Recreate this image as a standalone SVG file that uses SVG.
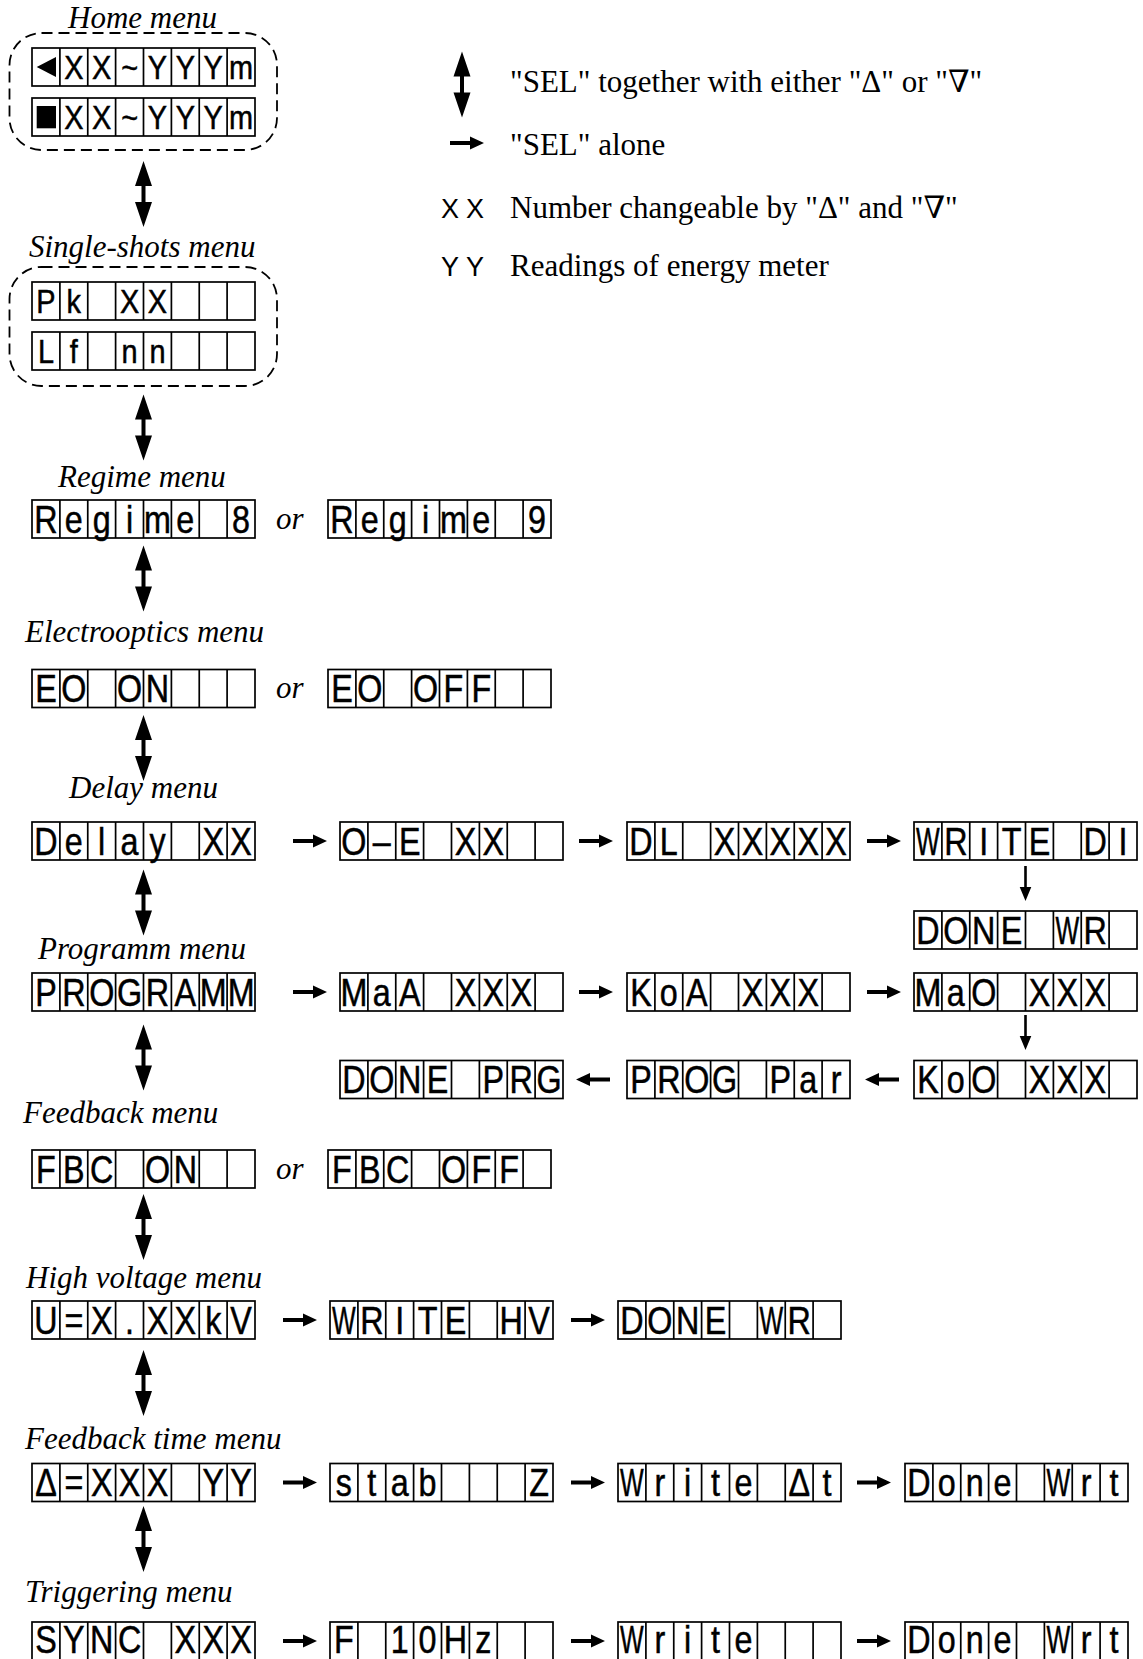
<svg xmlns="http://www.w3.org/2000/svg" width="1143" height="1659" viewBox="0 0 1143 1659">
<style>
.c{font-family:"Liberation Sans",Arial,sans-serif;font-size:38px;text-anchor:middle;fill:#000;stroke:#000;stroke-width:0.5}
.c2{font-size:34px}
.t{font-family:"Liberation Serif","Times New Roman",serif;font-style:italic;font-size:31px;fill:#000}
.lg{font-family:"Liberation Serif","Times New Roman","DejaVu Serif",serif;font-size:31px;fill:#000}
.ls{font-family:"Liberation Sans",Arial,sans-serif;font-size:27px;text-anchor:middle;fill:#000}
.dash{fill:none;stroke:#000;stroke-width:1.8;stroke-dasharray:11 6}
.ln{fill:none;stroke:#000;stroke-width:1.7}
.bx{fill:#fff;stroke:#000;stroke-width:1.7}
</style>
<defs>
<g id="g8"><rect class="bx" width="223" height="38"/><path class="ln" d="M27.9 0V38M55.75 0V38M83.6 0V38M111.5 0V38M139.4 0V38M167.25 0V38M195.1 0V38"/></g>
<path id="dbl" d="M0 -33L8.5 -8L2 -8L2 8L8.5 8L0 33L-8.5 8L-2 8L-2 -8L-8.5 -8Z" fill="#000"/>
<path id="ra" d="M0 -2H20V-6.5L34 0L20 6.5V2H0Z" fill="#000"/>
<path id="da" d="M-1.3 0H1.3V21H5.8L0 35L-5.8 21H-1.3Z" fill="#000"/>
</defs>
<rect width="1143" height="1659" fill="#fff"/>

<g id="titles">
<text class="t" x="68" y="28">Home menu</text>
<text class="t" x="29" y="257">Single-shots menu</text>
<text class="t" x="58" y="487">Regime menu</text>
<text class="t" x="25" y="642">Electrooptics menu</text>
<text class="t" x="69" y="798">Delay menu</text>
<text class="t" x="38" y="959">Programm menu</text>
<text class="t" x="23" y="1123">Feedback menu</text>
<text class="t" x="26" y="1288">High voltage menu</text>
<text class="t" x="25" y="1449">Feedback time menu</text>
<text class="t" x="25" y="1602">Triggering menu</text>
<text class="t" x="276" y="529">or</text>
<text class="t" x="276" y="698">or</text>
<text class="t" x="276" y="1179">or</text>
</g>

<g id="legend">
<use href="#dbl" x="462" y="84.5"/>
<text class="lg" x="510" y="91.5">"SEL" together with either "Δ" or "∇"</text>
<use href="#ra" x="450" y="143"/>
<text class="lg" x="510" y="154.5">"SEL" alone</text>
<text class="ls" x="450 475" y="218">XX</text>
<text class="lg" x="510" y="218">Number changeable by "Δ" and "∇"</text>
<text class="ls" x="450 475" y="276">YY</text>
<text class="lg" x="510" y="276">Readings of energy meter</text>
</g>

<g id="home-menu">
<rect class="dash" x="9.5" y="33" width="267.5" height="117" rx="32" ry="32"/>
<g id="home-row1" transform="translate(32,48)"><use href="#g8"/><polygon points="4.7,19 24,9 24,29" fill="#000"/><text class="c c2" transform="scale(0.85,1)" x="49.2 82 114.8 147.6 180.4 213.2 246" y="31">XX~YYYm</text></g>
<g id="home-row2" transform="translate(32,98)"><use href="#g8"/><rect x="4.7" y="8" width="19.3" height="22.3" fill="#000"/><text class="c c2" transform="scale(0.85,1)" x="49.2 82 114.8 147.6 180.4 213.2 246" y="31">XX~YYYm</text></g>
</g>

<g id="single-shots-menu">
<rect class="dash" x="9.5" y="267" width="267.5" height="119" rx="32" ry="32"/>
<g id="ss-row1" transform="translate(32,282)"><use href="#g8"/><text class="c c2" transform="scale(0.85,1)" x="16.4 49.2 82 114.8 147.6" y="31">Pk&#160;XX</text></g>
<g id="ss-row2" transform="translate(32,332)"><use href="#g8"/><text class="c c2" transform="scale(0.85,1)" x="16.4 49.2 82 114.8 147.6" y="31">Lf&#160;nn</text></g>
</g>

<g id="regime8" transform="translate(32,500)"><use href="#g8"/><text class="c" transform="scale(0.85,1)" x="16.4 49.2 82 114.8 147.6 180.4 213.2 246" y="32.6">Regime&#160;8</text></g>
<g id="regime9" transform="translate(328,500)"><use href="#g8"/><text class="c" transform="scale(0.85,1)" x="16.4 49.2 82 114.8 147.6 180.4 213.2 246" y="32.6">Regime&#160;9</text></g>
<g id="eo-on" transform="translate(32,669.5)"><use href="#g8"/><text class="c" transform="scale(0.85,1)" x="16.4 49.2 82 114.8 147.6" y="32.6">EO&#160;ON</text></g>
<g id="eo-off" transform="translate(328,669.5)"><use href="#g8"/><text class="c" transform="scale(0.85,1)" x="16.4 49.2 82 114.8 147.6 180.4" y="32.6">EO&#160;OFF</text></g>

<g id="delay" transform="translate(32,822)"><use href="#g8"/><text class="c" transform="scale(0.85,1)" x="16.4 49.2 82 114.8 147.6 180.4 213.2 246" y="32.6">Delay&#160;XX</text></g>
<g id="o-e" transform="translate(340,822)"><use href="#g8"/><text class="c" transform="scale(0.85,1)" x="16.4 49.2 82 114.8 147.6 180.4" y="32.6">O–E&#160;XX</text></g>
<g id="dl" transform="translate(627,822)"><use href="#g8"/><text class="c" transform="scale(0.85,1)" x="16.4 49.2 82 114.8 147.6 180.4 213.2 246" y="32.6">DL&#160;XXXXX</text></g>
<g id="write-di" transform="translate(914,822)"><use href="#g8"/><text class="c" transform="translate(13.94,32.6) scale(0.66,1)">W</text><text class="c" transform="scale(0.85,1)" x="49.2 82 114.8 147.6 180.4 213.2 246" y="32.6">RITE&#160;DI</text></g>
<g id="done-wr-delay" transform="translate(914,911)"><use href="#g8"/><text class="c" transform="scale(0.85,1)" x="16.4 49.2 82 114.8" y="32.6">DONE</text><text class="c" transform="translate(153.31,32.6) scale(0.66,1)">W</text><text class="c" transform="scale(0.85,1)" x="213.2" y="32.6">R</text></g>

<g id="programm" transform="translate(32,973)"><use href="#g8"/><text class="c" transform="scale(0.85,1)" x="16.4 49.2 82 114.8 147.6 180.4 213.2 246" y="32.6">PROGRAMM</text></g>
<g id="maa" transform="translate(340,973)"><use href="#g8"/><text class="c" transform="scale(0.85,1)" x="16.4 49.2 82 114.8 147.6 180.4 213.2" y="32.6">MaA&#160;XXX</text></g>
<g id="koa" transform="translate(627,973)"><use href="#g8"/><text class="c" transform="scale(0.85,1)" x="16.4 49.2 82 114.8 147.6 180.4 213.2" y="32.6">KoA&#160;XXX</text></g>
<g id="mao" transform="translate(914,973)"><use href="#g8"/><text class="c" transform="scale(0.85,1)" x="16.4 49.2 82 114.8 147.6 180.4 213.2" y="32.6">MaO&#160;XXX</text></g>
<g id="koo" transform="translate(914,1060.5)"><use href="#g8"/><text class="c" transform="scale(0.85,1)" x="16.4 49.2 82 114.8 147.6 180.4 213.2" y="32.6">KoO&#160;XXX</text></g>
<g id="prog-par" transform="translate(627,1060.5)"><use href="#g8"/><text class="c" transform="scale(0.85,1)" x="16.4 49.2 82 114.8 147.6 180.4 213.2 246" y="32.6">PROG&#160;Par</text></g>
<g id="done-prg" transform="translate(340,1060.5)"><use href="#g8"/><text class="c" transform="scale(0.85,1)" x="16.4 49.2 82 114.8 147.6 180.4 213.2 246" y="32.6">DONE&#160;PRG</text></g>

<g id="fbc-on" transform="translate(32,1150)"><use href="#g8"/><text class="c" transform="scale(0.85,1)" x="16.4 49.2 82 114.8 147.6 180.4" y="32.6">FBC&#160;ON</text></g>
<g id="fbc-off" transform="translate(328,1150)"><use href="#g8"/><text class="c" transform="scale(0.85,1)" x="16.4 49.2 82 114.8 147.6 180.4 213.2" y="32.6">FBC&#160;OFF</text></g>

<g id="hv" transform="translate(32,1301)"><use href="#g8"/><text class="c" transform="scale(0.85,1)" x="16.4 49.2 82 114.8 147.6 180.4 213.2 246" y="32.6">U=X.XXkV</text></g>
<g id="write-hv" transform="translate(330,1301)"><use href="#g8"/><text class="c" transform="translate(13.94,32.6) scale(0.66,1)">W</text><text class="c" transform="scale(0.85,1)" x="49.2 82 114.8 147.6 180.4 213.2 246" y="32.6">RITE&#160;HV</text></g>
<g id="done-wr-hv" transform="translate(618,1301)"><use href="#g8"/><text class="c" transform="scale(0.85,1)" x="16.4 49.2 82 114.8" y="32.6">DONE</text><text class="c" transform="translate(153.31,32.6) scale(0.66,1)">W</text><text class="c" transform="scale(0.85,1)" x="213.2" y="32.6">R</text></g>

<g id="ft" transform="translate(32,1463.5)"><use href="#g8"/><text class="c" transform="scale(0.85,1)" x="16.4 49.2 82 114.8 147.6 180.4 213.2 246" y="32.6">Δ=XXX&#160;YY</text></g>
<g id="stab" transform="translate(330,1463.5)"><use href="#g8"/><text class="c" transform="scale(0.85,1)" x="16.4 49.2 82 114.8" y="32.6">stab</text><text class="c" transform="scale(0.85,1)" x="246" y="32.6">Z</text></g>
<g id="write-dt" transform="translate(618,1463.5)"><use href="#g8"/><text class="c" transform="translate(13.94,32.6) scale(0.66,1)">W</text><text class="c" transform="scale(0.85,1)" x="49.2 82 114.8 147.6 180.4 213.2 246" y="32.6">rite&#160;Δt</text></g>
<g id="done-wrt-ft" transform="translate(905,1463.5)"><use href="#g8"/><text class="c" transform="scale(0.85,1)" x="16.4 49.2 82 114.8" y="32.6">Done</text><text class="c" transform="translate(153.31,32.6) scale(0.66,1)">W</text><text class="c" transform="scale(0.85,1)" x="213.2 246" y="32.6">rt</text></g>

<g id="sync" transform="translate(32,1622)"><use href="#g8"/><text class="c" transform="scale(0.85,1)" x="16.4 49.2 82 114.8 147.6 180.4 213.2 246" y="31">SYNC&#160;XXX</text></g>
<g id="f10hz" transform="translate(330,1622)"><use href="#g8"/><text class="c" transform="scale(0.85,1)" x="16.4 49.2 82 114.8 147.6 180.4" y="31">F&#160;10Hz</text></g>
<g id="write-trig" transform="translate(618,1622)"><use href="#g8"/><text class="c" transform="translate(13.94,31) scale(0.66,1)">W</text><text class="c" transform="scale(0.85,1)" x="49.2 82 114.8 147.6" y="31">rite</text></g>
<g id="done-wrt-trig" transform="translate(905,1622)"><use href="#g8"/><text class="c" transform="scale(0.85,1)" x="16.4 49.2 82 114.8" y="31">Done</text><text class="c" transform="translate(153.31,31) scale(0.66,1)">W</text><text class="c" transform="scale(0.85,1)" x="213.2 246" y="31">rt</text></g>

<g id="connectors">
<use href="#dbl" x="143.5" y="194"/>
<use href="#dbl" x="143.5" y="427.5"/>
<use href="#dbl" x="143.5" y="578.5"/>
<use href="#dbl" x="143.5" y="748"/>
<use href="#dbl" x="143.5" y="902.5"/>
<use href="#dbl" x="143.5" y="1057.5"/>
<use href="#dbl" x="143.5" y="1227"/>
<use href="#dbl" x="143.5" y="1383"/>
<use href="#dbl" x="143.5" y="1539"/>
<use href="#ra" x="293" y="841"/>
<use href="#ra" x="579" y="841"/>
<use href="#ra" x="867" y="841"/>
<use href="#da" x="1025.5" y="866"/>
<use href="#ra" x="293" y="992"/>
<use href="#ra" x="579" y="992"/>
<use href="#ra" x="867" y="992"/>
<use href="#da" x="1025.5" y="1015"/>
<use href="#ra" transform="translate(899,1079.5) scale(-1,1)"/>
<use href="#ra" transform="translate(610,1079.5) scale(-1,1)"/>
<use href="#ra" x="283" y="1320"/>
<use href="#ra" x="571" y="1320"/>
<use href="#ra" x="283" y="1482.5"/>
<use href="#ra" x="571" y="1482.5"/>
<use href="#ra" x="857" y="1482.5"/>
<use href="#ra" x="283" y="1641"/>
<use href="#ra" x="571" y="1641"/>
<use href="#ra" x="857" y="1641"/>
</g>
</svg>
